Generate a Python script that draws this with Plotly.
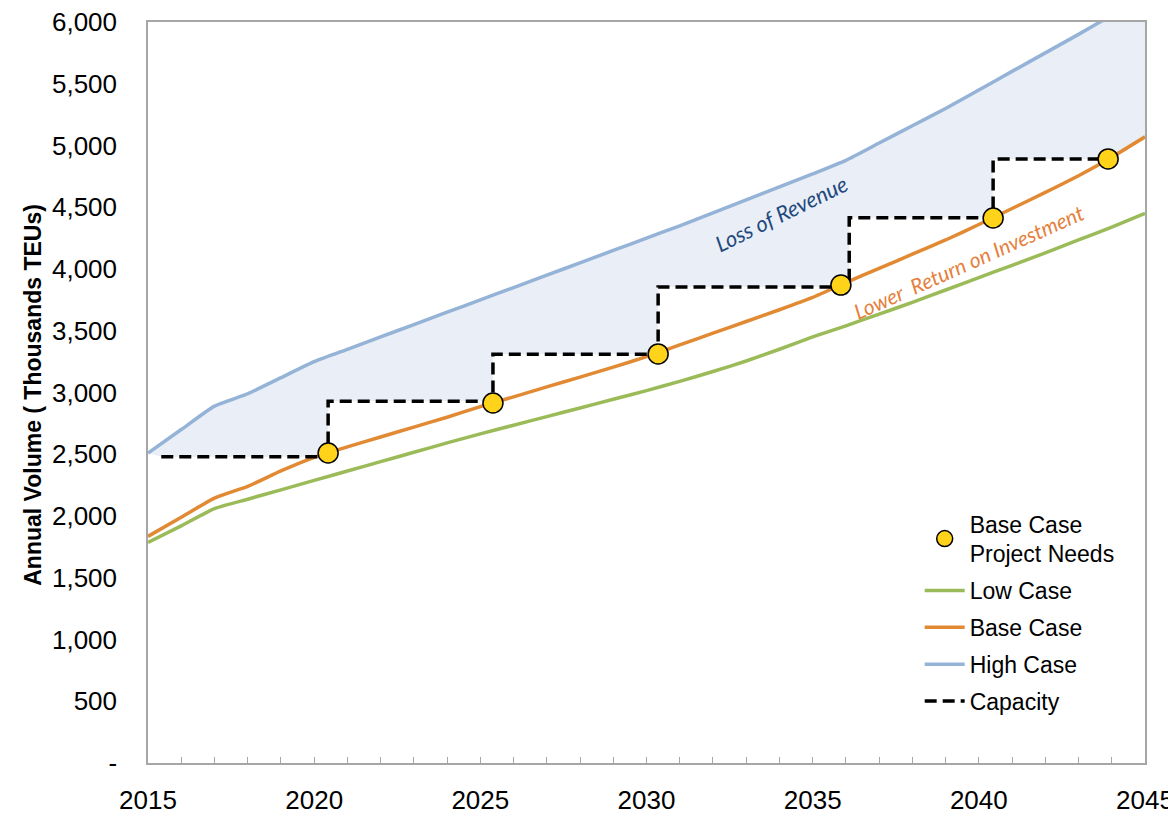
import plotly.graph_objects as go

# ---------------- data ----------------
years = list(range(2015, 2046))
high_case = [2510, 2700, 2890, 2990, 3120, 3250, 3350, 3450, 3550, 3650,
             3750, 3850, 3950, 4050, 4150, 4250, 4350, 4455, 4560, 4665,
             4770, 4880, 5020, 5160, 5300, 5450, 5600, 5750, 5900, 6055, 6210]
base_case = [1835, 1990, 2145, 2240, 2365, 2475, 2560, 2640, 2720, 2800,
             2885, 2965, 3045, 3125, 3205, 3290, 3385, 3480, 3575, 3670,
             3770, 3890, 4005, 4120, 4235, 4360, 4490, 4620, 4755, 4905, 5070]
low_case = [1785, 1920, 2060, 2136, 2212, 2288, 2364, 2440, 2516, 2592,
            2665, 2735, 2805, 2875, 2945, 3015, 3090, 3170, 3255, 3350,
            3450, 3540, 3635, 3730, 3830, 3930, 4030, 4130, 4235, 4340, 4450]

needs_year = [2020.42, 2025.38, 2030.35, 2035.85, 2040.43, 2043.89]
needs_value = [2510, 2915, 3312, 3870, 4413, 4891]

capacity_year = [2015.4, 2020.42, 2020.42, 2025.38, 2025.38, 2030.35, 2030.35,
                 2036.1, 2036.1, 2040.43, 2040.43, 2043.89]
capacity_value = [2480, 2480, 2930, 2930, 3310, 3310, 3855,
                  3855, 4415, 4415, 4890, 4890]

x_tick_vals = [2015, 2020, 2025, 2030, 2035, 2040, 2045]
x_tick_text = ["2015", "2020", "2025", "2030", "2035", "2040", "2045"]
y_tick_vals = [0, 500, 1000, 1500, 2000, 2500, 3000, 3500, 4000, 4500, 5000, 5500, 6000]
y_tick_text = ["-", "500", "1,000", "1,500", "2,000", "2,500", "3,000", "3,500",
               "4,000", "4,500", "5,000", "5,500", "6,000"]

# ---------------- styles ----------------
NARROW = "Liberation Sans Narrow, Arial Narrow, Liberation Sans, Arial, sans-serif"
C_HIGH = "#95B3D7"
C_BASE = "#E28A33"
C_LOW = "#9BBB59"
FILL_BLUE = "#E9EEF7"
FILL_YELLOW = "#FEFEE4"
SMOOTH = dict(shape="spline", smoothing=0.5)

fig = go.Figure()

# blue band: between high case and capacity (then base case beyond capacity end)
last_cap = capacity_year[-1]
tail = [(y, b) for y, b in zip(years, base_case) if y > last_cap]
lower_x = capacity_year + [t[0] for t in tail]
lower_y = capacity_value + [t[1] for t in tail]
poly_x = years + lower_x[::-1]
poly_y = high_case + lower_y[::-1]
fig.add_trace(go.Scatter(x=poly_x, y=poly_y, fill="toself", fillcolor=FILL_BLUE,
                         mode="none", showlegend=False, hoverinfo="skip"))

# yellow band between low and base
fig.add_trace(go.Scatter(x=years, y=low_case, mode="none", showlegend=False, hoverinfo="skip"))
fig.add_trace(go.Scatter(x=years, y=base_case, mode="none", fill="tonexty",
                         fillcolor=FILL_YELLOW, showlegend=False, hoverinfo="skip"))

fig.add_trace(go.Scatter(x=years, y=low_case, mode="lines", name="Low Case", legendgroup="g2",
                         line=dict(color=C_LOW, width=3.5, **SMOOTH), legendrank=2))
fig.add_trace(go.Scatter(x=years, y=base_case, mode="lines", name="Base Case", legendgroup="g3",
                         line=dict(color=C_BASE, width=3.5, **SMOOTH), legendrank=3))
fig.add_trace(go.Scatter(x=years, y=high_case, mode="lines", name="High Case", legendgroup="g4",
                         line=dict(color=C_HIGH, width=3.5, **SMOOTH), legendrank=4))
fig.add_trace(go.Scatter(x=capacity_year, y=capacity_value, mode="lines", name="Capacity",
                         legendgroup="g5",
                         line=dict(color="black", width=3.5, dash="12px,6px"), legendrank=5))
fig.add_trace(go.Scatter(x=needs_year, y=needs_value, mode="markers", legendgroup="g1",
                         name="Base Case<br>Project Needs",
                         marker=dict(size=20, color="#FFD31A", line=dict(color="black", width=1.5)),
                         legendrank=1))

fig.add_annotation(x=2034.05, y=4453, text="<i>Loss of Revenue</i>", showarrow=False,
                   textangle=-26, font=dict(family="Lato, Open Sans, sans-serif", size=22, color="#1F497D"))
fig.add_annotation(x=2039.7, y=4060, text="<i>Lower  Return on Investment</i>", showarrow=False,
                   textangle=-24, font=dict(family="Lato, Open Sans, sans-serif", size=21, color="#E5803C"))

fig.add_annotation(xref="paper", yref="paper", x=-0.1153, y=0.497,
                   text="<b>Annual Volume ( Thousands TEUs)</b>", showarrow=False,
                   textangle=-90, xanchor="center", yanchor="middle",
                   font=dict(family=NARROW, size=23, color="black"))

fig.update_xaxes(range=[2015, 2045], tickvals=x_tick_vals, ticktext=x_tick_text,
                 ticks="inside", ticklen=6, tickcolor="#A6A6A6", tickwidth=1,
                 minor=dict(dtick=1, ticks="inside", ticklen=6, tickcolor="#A6A6A6", tickwidth=1),
                 showline=True, linecolor="#A6A6A6", linewidth=1.5, mirror=True,
                 showgrid=False, zeroline=False, ticklabelstandoff=13, automargin=False,
                 ticklabeloverflow="allow",
                 tickfont=dict(family=NARROW, size=26, color="black"))
fig.update_yaxes(range=[0, 6000], tickvals=y_tick_vals, ticktext=y_tick_text,
                 ticks="", showline=True, linecolor="#A6A6A6", linewidth=1.5, mirror=True,
                 showgrid=False, zeroline=False, ticklabelstandoff=24, automargin=False,
                 tickfont=dict(family=NARROW, size=26, color="black"))

fig.update_layout(
    width=1168, height=817,
    margin=dict(l=148, r=23, t=22, b=54, autoexpand=False),
    plot_bgcolor="white", paper_bgcolor="white",
    legend=dict(x=0.774, y=0.352, xanchor="left", yanchor="top", traceorder="grouped",
                bgcolor="rgba(0,0,0,0)", font=dict(family=NARROW, size=23, color="black"),
                tracegroupgap=4, itemwidth=40),
)

fig.write_html("out.html")
